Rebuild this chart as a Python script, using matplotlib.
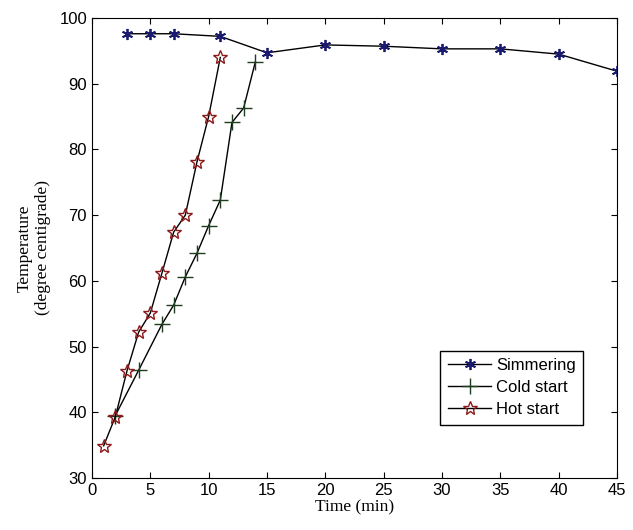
import matplotlib.pyplot as plt

t_sim = [3, 5, 7, 11, 15, 20, 25, 30, 35, 40, 45]
temp_sim = [97.6, 97.6, 97.6, 97.2, 94.7, 95.9, 95.7, 95.3, 95.3, 94.5, 91.9]

t_cold = [2, 4, 6, 7, 8, 9, 10, 11, 12, 13, 14]
temp_cold = [39.5, 46.4, 53.4, 56.3, 60.6, 64.2, 68.4, 72.3, 84.1, 86.3, 93.3]

t_hot = [1, 2, 3, 4, 5, 6, 7, 8, 9, 10, 11]
temp_hot = [34.9, 39.3, 46.3, 52.2, 55.1, 61.2, 67.4, 70.0, 78.1, 85.0, 94.0]

xticks = [0, 5, 10, 15, 20, 25, 30, 35, 40, 45]
yticks = [30, 40, 50, 60, 70, 80, 90, 100]

tick_fonts = ['Liberation Sans Narrow', 'Liberation Sans']

fig = plt.figure(figsize=(6.33, 5.30), dpi=100)
ax = fig.add_axes([0.1453, 0.0981, 0.8294, 0.868])

# matlab-style asterisk
ax.plot(t_sim, temp_sim, color='black', lw=1, marker=(6, 2, 0), ms=8,
        mec='#1a1a6e', mew=1.3, label='Simmering')
ax.plot(t_cold, temp_cold, color='black', lw=1, marker='+', ms=11,
        mec='#1f3d1f', mew=1, label='Cold start')
ax.plot(t_hot, temp_hot, color='black', lw=1, marker='*', ms=10,
        mec='#8b1a1a', mfc='none', mew=1, label='Hot start')

ax.set_xlim(0, 45)
ax.set_ylim(30, 100)
ax.set_xticks(xticks)
ax.set_yticks(yticks)
ax.tick_params(direction='in', top=True, right=True, length=4, labelsize=12)
for lab in ax.get_xticklabels() + ax.get_yticklabels():
    lab.set_family(tick_fonts)

ax.set_xlabel('Time (min)', family='Liberation Serif', fontsize=12.5, labelpad=1)
ax.set_ylabel('Temperature\n(degree centigrade)', family='Liberation Serif',
              fontsize=12.5, labelpad=6)

leg = ax.legend(loc='lower right', bbox_to_anchor=(0.952, 0.098), fancybox=False,
                edgecolor='black', framealpha=1,
                prop={'family': tick_fonts, 'size': 12},
                handlelength=2.6, borderpad=0.45, labelspacing=0.42, handletextpad=0.3)
leg.get_frame().set_linewidth(1)

fig.savefig('out.png', dpi=100)
